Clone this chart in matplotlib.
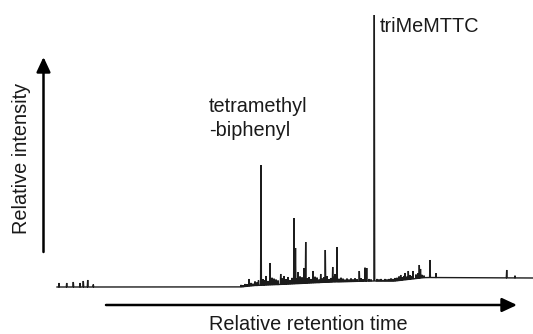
import numpy as np
import matplotlib
matplotlib.use('Agg')
import matplotlib.pyplot as plt

plt.rcParams['font.family'] = ['Liberation Sans', 'DejaVu Sans']

# baseline of the chromatogram (retention time, intensity)
base_rt = [57, 240, 255, 290, 330, 370, 395, 425, 533]
base_int = [0, 0, 1.5, 3, 5, 6, 6, 9.5, 9]

# resolved peaks: retention time and apex intensity
peak_rt = [59, 66.7, 73.3, 80, 83.3, 87.7, 93.3,
           249, 261, 266, 270, 280.7, 284, 288, 294, 295.5, 298, 304, 305.7,
           313, 320.7, 325.3, 332.7, 335, 337, 359.3, 365, 366.7, 374.3,
           400.7, 405, 408.3, 413, 419.3, 420.5, 430, 436, 506.7, 515]
peak_int = [4, 4, 5, 4, 6, 7, 2.5,
            8, 122, 11, 24, 13, 11, 10, 69, 39, 15, 19, 45,
            16, 13, 37, 20, 13, 40, 16, 19.3, 19, 272,
            12, 14, 16, 16, 22, 18, 27, 13.7, 17, 11.3]

# unresolved small peaks (retention time, height above baseline)
noise = [(241, 2), (243, 1.5), (245, 2.5), (247, 2), (251, 3), (253, 2),
         (255, 4), (257, 3), (258.5, 5), (263, 6), (264.5, 5), (268, 4),
         (272, 7), (274, 6), (276, 5), (278, 4), (282, 6), (286, 5),
         (290, 4), (292, 6), (296.5, 5), (300, 7), (302, 6), (307, 5),
         (309, 6), (311, 4), (315, 6), (317, 5), (319, 3), (322, 4),
         (324, 5), (327, 6), (329, 3), (331, 4), (334, 5), (339, 3),
         (341, 4), (343, 3), (345, 2), (347, 3), (349, 2), (351, 3),
         (353, 2), (355, 3), (357, 2), (361, 3), (363, 2), (369, 2),
         (371, 1.5), (377, 2), (379, 1.5), (381, 2), (383, 1), (385, 2),
         (387, 1.5), (389, 2), (391, 2.5), (393, 2), (395, 3), (397, 3),
         (399, 4), (402, 3), (404, 4), (407, 3), (410, 4), (412, 3),
         (416, 4), (418, 5), (422, 3), (424, 2)]

# build the trace: baseline with spikes on top
spikes = []
for rt, top in zip(peak_rt, peak_int):
    b = np.interp(rt, base_rt, base_int)
    spikes.append((rt, top - b))
spikes += noise
spikes.sort()

xs, ys = [base_rt[0]], [base_int[0]]
for rt, h in spikes:
    b = np.interp(rt, base_rt, base_int)
    xs += [rt - 0.4, rt, rt + 0.4]
    ys += [b, b + h, b]
xs.append(base_rt[-1])
ys.append(base_int[-1])

fig = plt.figure(figsize=(5.33, 3.34), dpi=100)
ax = fig.add_axes([0, 0, 1, 1])
ax.plot(xs, ys, color='#1c1c1c', lw=1.0, solid_joinstyle='miter')
ax.set_xlim(0, 533)
ax.set_ylim(-47, 287)
ax.axis('off')

fs = 14.3
tc = '#1a1a1a'
arrow = dict(arrowstyle='-|>,head_length=0.75,head_width=0.35', lw=1.8,
             color='black', mutation_scale=12, shrinkA=0, shrinkB=0)
ax.annotate('', xy=(43.5, 230), xytext=(43.5, 35), arrowprops=arrow)
ax.annotate('', xy=(517, -18), xytext=(106, -18), arrowprops=arrow)

ax.text(22, 129, 'Relative intensity', rotation=90, ha='center', va='center',
        fontsize=fs, color=tc)
ax.text(308, -43, 'Relative retention time', ha='center', va='baseline',
        fontsize=fs, color=tc)
ax.text(209, 151, 'tetramethyl\n-biphenyl', ha='left', va='baseline', fontsize=fs,
        linespacing=1.3, color=tc)
ax.text(380, 255.3, 'triMeMTTC', ha='left', va='baseline', fontsize=fs, color=tc)

fig.savefig('out.png', dpi=100)
